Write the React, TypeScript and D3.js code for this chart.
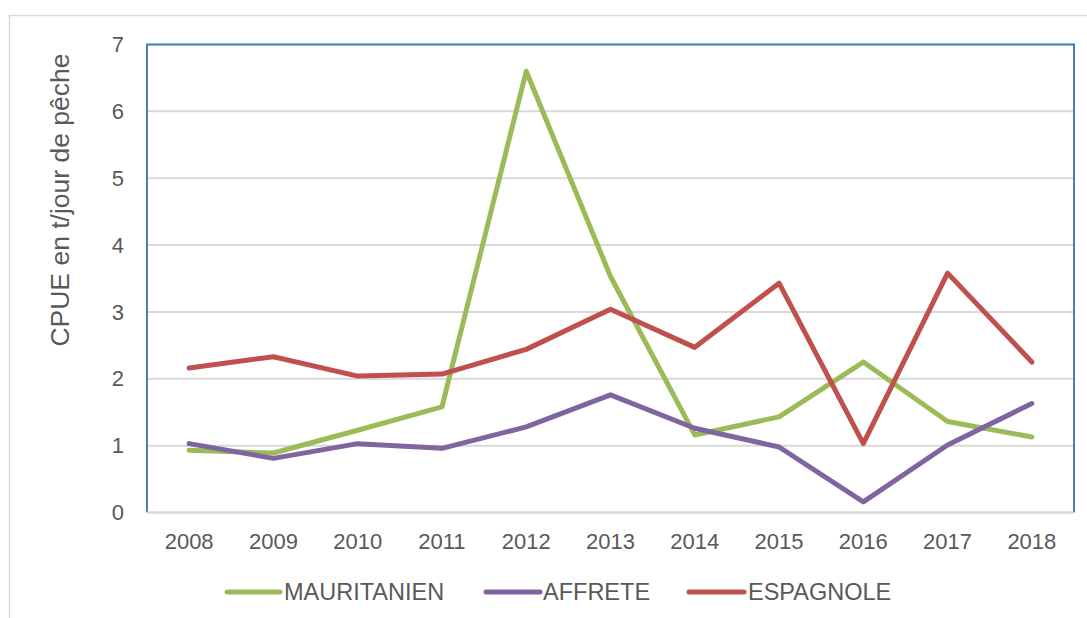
import React from "react";
import * as d3 from "d3";

const years = ["2008", "2009", "2010", "2011", "2012", "2013", "2014", "2015", "2016", "2017", "2018"];
const mauritanien = [0.93, 0.89, 1.23, 1.58, 6.6, 3.53, 1.16, 1.43, 2.25, 1.36, 1.13];
const affrete = [1.03, 0.81, 1.03, 0.96, 1.28, 1.76, 1.26, 0.98, 0.16, 1.01, 1.63];
const espagnole = [2.16, 2.33, 2.04, 2.07, 2.44, 3.04, 2.47, 3.43, 1.03, 3.58, 2.25];
const yTicks = [0, 1, 2, 3, 4, 5, 6, 7];

const series = [
  { name: "MAURITANIEN", values: mauritanien, color: "#9BBB59" },
  { name: "AFFRETE", values: affrete, color: "#8064A2" },
  { name: "ESPAGNOLE", values: espagnole, color: "#C0504D" },
];

export default function App() {
  const W = 1087, H = 618;
  const left = 147, right = 1074, top = 44.5, bottom = 512.5;
  const x = d3.scaleBand<string>().domain(years).range([left, right]);
  const y = d3.scaleLinear().domain([0, 7]).range([bottom, top]);
  const cx = (yr: string) => (x(yr) as number) + x.bandwidth() / 2;
  const line = d3
    .line<number>()
    .x((_, i) => cx(years[i]))
    .y((d) => y(d));

  const legendItems = [
    { x1: 227, x2: 280, tx: 284 },
    { x1: 486, x2: 540, tx: 543 },
    { x1: 689, x2: 744, tx: 748 },
  ];
  const textColor = "#595959";
  const font = "'Liberation Sans', Arial, sans-serif";

  return (
    <svg
      width={W}
      height={H}
      style={{ position: "absolute", left: 0, top: 0, background: "#fff" }}
      fontFamily={font}
    >
      <rect x={0} y={0} width={W} height={H} fill="#fff" />
      {/* outer chart frame */}
      <rect x={9.5} y={15.5} width={W + 20} height={H + 20} fill="none" stroke="#d9d9d9" strokeWidth={1.5} />

      {/* gridlines */}
      {yTicks.map((t) => (
        <line key={t} x1={left} x2={right} y1={y(t)} y2={y(t)} stroke="#d9d9d9" strokeWidth={2} />
      ))}

      {/* plot border (left, top, right) */}
      <path
        d={`M${left},${bottom} L${left},${top} L${right},${top} L${right},${bottom}`}
        fill="none"
        stroke="#4A7EBB"
        strokeWidth={2}
      />
      <line x1={left} x2={right} y1={y(0)} y2={y(0)} stroke="#d9d9d9" strokeWidth={2} />

      {/* y tick labels */}
      {yTicks.map((t) => (
        <text key={t} x={124} y={y(t)} dy="0.35em" textAnchor="end" fontSize={22} fill={textColor}>
          {t}
        </text>
      ))}

      {/* x tick labels */}
      {years.map((yr) => (
        <text key={yr} x={cx(yr)} y={549} textAnchor="middle" fontSize={22} fill={textColor}>
          {yr}
        </text>
      ))}

      {/* y axis title */}
      <text
        transform="translate(69,200) rotate(-90)"
        textAnchor="middle"
        fontSize={26.5}
        fill={textColor}
      >
        CPUE en t/jour de pêche
      </text>

      {/* series */}
      {series.map((s) => (
        <path
          key={s.name}
          d={line(s.values) as string}
          fill="none"
          stroke={s.color}
          strokeWidth={5}
          strokeLinejoin="round"
          strokeLinecap="round"
        />
      ))}

      {/* legend */}
      {series.map((s, i) => (
        <g key={s.name}>
          <line
            x1={legendItems[i].x1}
            x2={legendItems[i].x2}
            y1={592}
            y2={592}
            stroke={s.color}
            strokeWidth={5}
            strokeLinecap="round"
          />
          <text x={legendItems[i].tx} y={600} fontSize={23.5} fill={textColor}>
            {s.name}
          </text>
        </g>
      ))}
    </svg>
  );
}
